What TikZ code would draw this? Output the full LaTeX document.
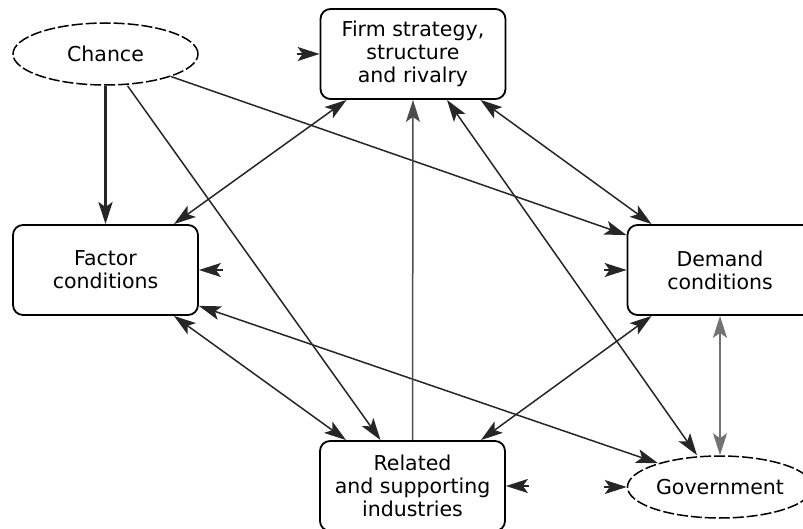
\documentclass[tikz,border=0pt]{standalone}
\usepackage{fontspec}
\setmainfont{DejaVu Sans}
\usetikzlibrary{arrows.meta,shapes.geometric}
\tikzset{
  >={Stealth[length=22pt,width=14pt,inset=5pt]},
  factorbox/.style={draw,rounded corners=10pt,line width=1.8pt,minimum width=185pt,minimum height=90pt,align=center,inner sep=0pt},
  chanceoval/.style={draw,ellipse,dashed,dash pattern=on 11pt off 3pt,line width=1.5pt,minimum width=185pt,minimum height=62pt,inner sep=0pt},
  link/.style={line width=1.5pt,color=black!85}
}
\begin{document}
\begin{tikzpicture}[x=1pt,y=-1pt,font=\fontsize{20.5}{23}\selectfont]
  \useasboundingbox (0,0) rectangle (803,529);
  \clip (0,0) rectangle (803,529);

  %the six determinants
  \node[chanceoval] (chance) at (105.5,54) {Chance};
  \node[factorbox] (firm) at (413,54) {Firm strategy,\\structure\\and rivalry};
  \node[factorbox] (factor) at (105.5,270) {Factor\\conditions};
  \node[factorbox] (demand) at (720,270) {Demand\\conditions};
  \node[factorbox] (related) at (412.5,486) {Related\\and supporting\\industries};
  \node[chanceoval] (gov) at (720,487) {Government};

  %chance
  \draw[->,line width=3.2pt,color=black!85] (chance.south) -- (factor.north);
  \draw[->,link] ([xshift=22pt]chance.south) -- ([xshift=-32pt]related.north);
  \draw[->,link] (chance.-19) -- ([yshift=-11pt]demand.north west);

  %factor conditions
  \draw[<->,link] ([xshift=-25pt]factor.north east) -- ([xshift=27pt]firm.south west);
  \draw[<->,link] ([xshift=-25pt]factor.south east) -- ([xshift=27pt]related.north west);
  \draw[<->,link] ([yshift=10pt]factor.south east) -- (gov.159);

  %related and supporting industries
  \draw[->,link,color=black!70] (related.north) -- (firm.south);

  %firm strategy
  \draw[<->,link] ([xshift=-26pt]firm.south east) -- ([xshift=25pt]demand.north west);
  \draw[<->,link] ([xshift=34pt]firm.south) -- ([xshift=-23pt]gov.north);

  %demand conditions
  \draw[<->,link] ([xshift=25pt]demand.south west) -- ([xshift=-25pt]related.north east);
  \draw[<->,link,color=black!55] (demand.south) -- (gov.north);

  %loose arrow heads
  \coordinate (firmstub) at ([xshift=-23pt]firm.west);
  \coordinate (factorstub) at ([xshift=24pt]factor.east);
  \coordinate (demandstub) at ([xshift=-23pt]demand.west);
  \coordinate (relatedstub) at ([xshift=23pt]related.east);
  \coordinate (govstub) at ([xshift=-23pt]gov.west);
  \draw[->,link] (firmstub) -- (firm.west);
  \draw[->,link] (factorstub) -- (factor.east);
  \draw[->,link] (demandstub) -- (demand.west);
  \draw[->,link] (relatedstub) -- (related.east);
  \draw[->,link] (govstub) -- (gov.west);
\end{tikzpicture}
\end{document}
